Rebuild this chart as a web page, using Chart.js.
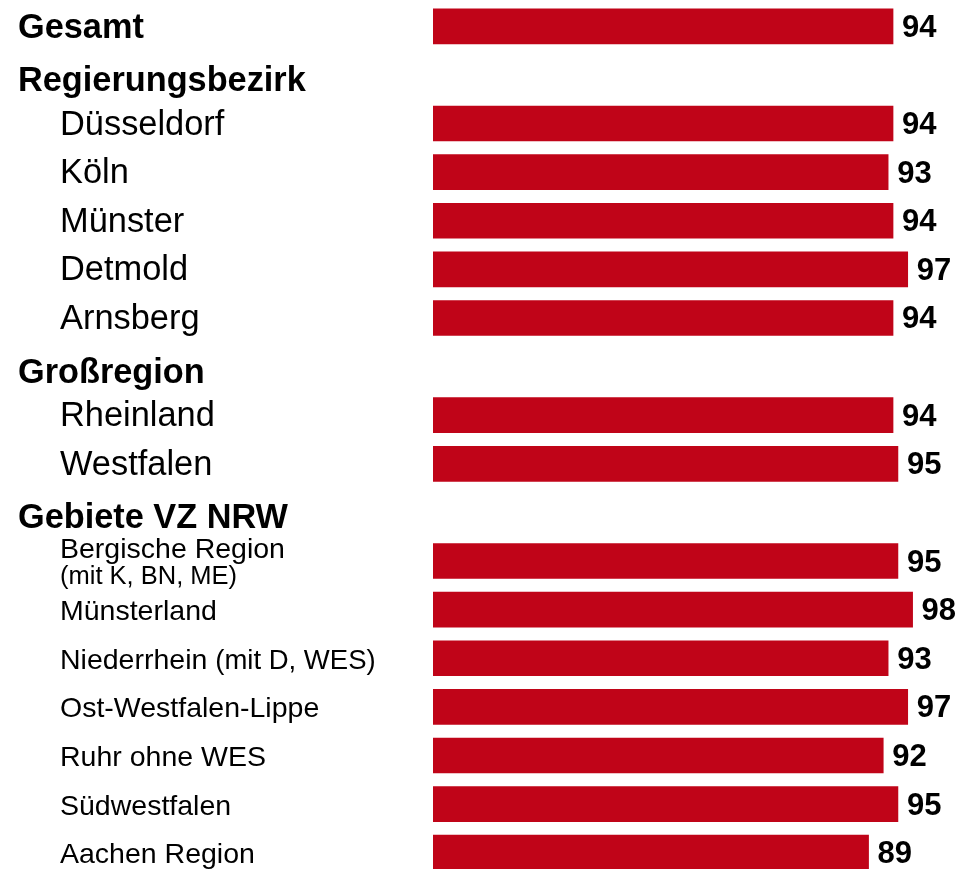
<!DOCTYPE html>
<html><head><meta charset="utf-8">
<script src="https://cdn.jsdelivr.net/npm/chart.js@4/dist/chart.umd.min.js"></script>
<style>html,body{margin:0;padding:0;background:#fff;overflow:hidden;}#wrap{width:965px;height:878px;}</style>
</head><body><div id="wrap"><canvas id="c" width="965" height="878"></canvas></div>
<script>
const categories = [
  'Gesamt',
  'Regierungsbezirk',
  'Düsseldorf', 'Köln', 'Münster', 'Detmold', 'Arnsberg',
  'Großregion',
  'Rheinland', 'Westfalen',
  'Gebiete VZ NRW',
  'Bergische Region\n(mit K, BN, ME)', 'Münsterland', 'Niederrhein (mit D, WES)',
  'Ost-Westfalen-Lippe', 'Ruhr ohne WES', 'Südwestfalen', 'Aachen Region'
];
const levels = [0, 0, 1, 1, 1, 1, 1, 0, 1, 1, 0, 2, 2, 2, 2, 2, 2, 2];
const values = [94, null, 94, 93, 94, 97, 94, null, 94, 95, null, 95, 98, 93, 97, 92, 95, 89];
const axisMin = 0;
const axisMax = 100;

const FONT = '"Liberation Sans", Arial, Helvetica, sans-serif';

const rowLabels = {
  id: 'rowLabels',
  afterDraw(chart) {
    const ctx = chart.ctx;
    const ys = chart.scales.y;
    ctx.save();
    ctx.fillStyle = '#000';
    ctx.textAlign = 'left';
    ctx.textBaseline = 'alphabetic';
    categories.forEach((cat, i) => {
      const cy = ys.getPixelForValue(i);
      const lvl = levels[i];
      if (lvl === 0) {
        ctx.font = 'bold 34.3px ' + FONT;
        const off = values[i] === null ? 16 : 11.5;
        ctx.fillText(cat, 18, cy + off);
        return;
      }
      if (lvl === 1) {
        ctx.font = '34.4px ' + FONT;
        ctx.fillText(cat, 60, cy + 11);
        return;
      }
      const lines = cat.split('\n');
      const base = lines.length > 1 ? cy - 3.5 : cy + 10.5;
      lines.forEach((ln, k) => {
        const by = base + k * 26.3;
        const idx = ln.indexOf('(');
        const main = idx < 0 ? ln : ln.slice(0, idx);
        const note = idx < 0 ? '' : ln.slice(idx);
        let x = 60;
        if (main) {
          ctx.font = '28.5px ' + FONT;
          ctx.fillText(main, x, by);
          x += ctx.measureText(main).width;
        }
        if (note) {
          ctx.font = (main ? '27.5px ' : '25.5px ') + FONT;
          ctx.fillText(note, x, by);
        }
      });
    });
    // value labels
    const meta = chart.getDatasetMeta(0);
    ctx.font = 'bold 31px ' + FONT;
    meta.data.forEach((bar, i) => {
      const v = values[i];
      if (v === null || v === undefined) return;
      ctx.fillText(String(v), bar.x + 9, bar.y + 10.5);
    });
    ctx.restore();
  }
};

new Chart(document.getElementById('c'), {
  type: 'bar',
  data: {
    labels: categories,
    datasets: [{
      data: values,
      backgroundColor: '#C00418',
      borderWidth: 0,
      barThickness: 35
    }]
  },
  options: {
    indexAxis: 'y',
    responsive: false,
    animation: false,
    devicePixelRatio: 1,
    layout: { padding: { left: 433, right: 42.6, top: 2, bottom: 1 } },
    plugins: { legend: { display: false }, tooltip: { enabled: false } },
    scales: {
      x: { display: false, min: axisMin, max: axisMax, grid: { display: false } },
      y: { display: false, offset: true, grid: { display: false } }
    }
  },
  plugins: [rowLabels]
});
</script>
</body></html>
